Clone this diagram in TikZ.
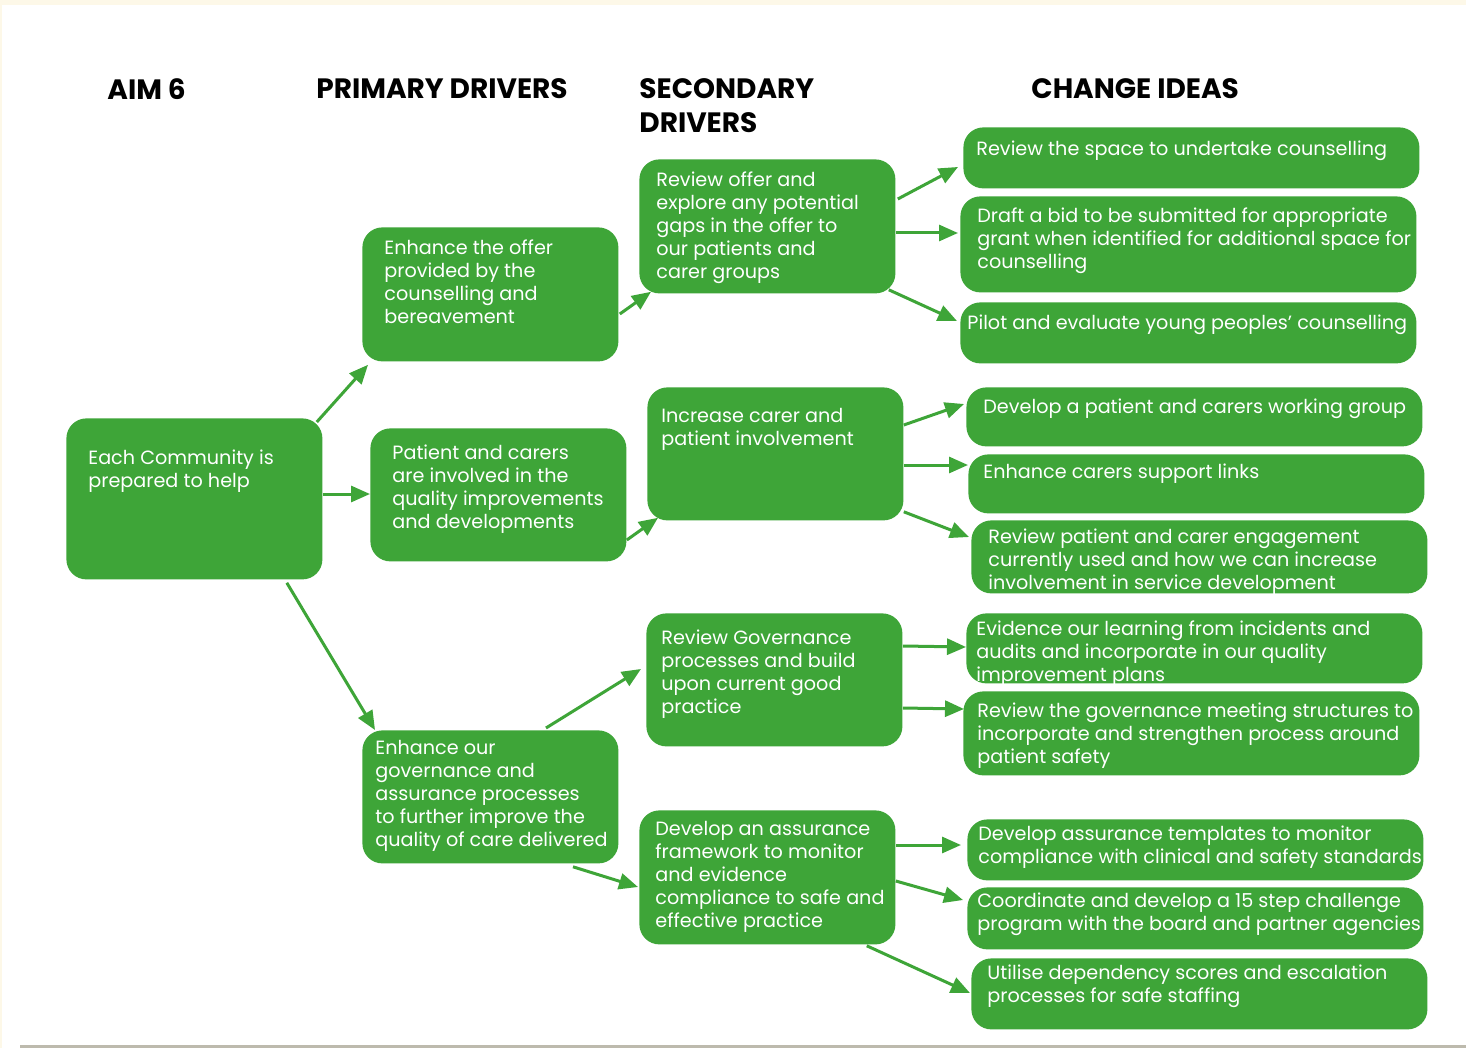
\documentclass[tikz,border=0pt]{standalone}
\usepackage{fontspec}
\setmainfont{Poppins}
\usetikzlibrary{arrows.meta,calc}
\definecolor{leaf}{HTML}{3EA538}
\definecolor{cream}{HTML}{FDF8E8}
\definecolor{shadowline}{HTML}{BDBAAD}
\newdimen\pxu \pxu=0.5pt
% box content: width, height, left padding, first baseline, text (all in px)
\newcommand\cell[5]{%
  \hspace*{#3\pxu}\parbox[c][#2\pxu][t]{\dimexpr#1\pxu-#3\pxu+20pt\relax}{%
    \fontsize{9.6}{11.5}\selectfont\raggedright\color{white}%
    \rule{0pt}{#4\pxu}#5}\hspace*{-20pt}}
% column heading: first baseline measured from the node top
\newcommand\heading[1]{%
  \parbox[t]{200pt}{\fontsize{14}{17}\selectfont\bfseries
    \rule{0pt}{10pt}#1}}
\begin{document}
\begin{tikzpicture}[x=0.5pt,y=-0.5pt,
  box/.style={fill=leaf, rounded corners=10pt, inner sep=0pt, anchor=north west},
  head/.style={inner sep=0pt, anchor=north west, align=left},
  link/.style={draw=leaf, line width=1.5pt, -{Triangle[length=9.5pt,width=8pt]}}]
\useasboundingbox (0,0) rectangle (1466,1048);
% page background
\fill[white] (0,0) rectangle (1466,1048);
\fill[cream] (0,0) rectangle (1466,5);
\fill[cream] (0,0) rectangle (2,1048);
\fill[shadowline] (20,1045) rectangle (1466,1048);

% column headings
\node[head] (hAim) at (107,78) {\heading{AIM 6}};
\node[head] (hPri) at (316,78) {\heading{PRIMARY DRIVERS}};
\node[head] (hSec) at (639,78) {\heading{SECONDARY\\DRIVERS}};
\node[head] (hChg) at (1031,78) {\heading{CHANGE IDEAS}};

% aim
\node[box] (aim) at (66,418) {\cell{256}{161}{22}{46}{Each Community is\\prepared to help}};

% primary drivers
\node[box] (p1) at (362,227) {\cell{256}{134}{22}{27}{Enhance the offer\\provided by the\\counselling and\\bereavement}};
\node[box] (p2) at (370,428) {\cell{256}{133}{22}{31}{Patient and carers\\are involved in the\\quality improvements\\and developments}};
\node[box] (p3) at (362,730) {\cell{256}{133}{13}{24}{Enhance our\\governance and\\assurance processes\\to further improve the\\quality of care delivered}};

% secondary drivers
\node[box] (s1) at (639,159) {\cell{256}{134}{17}{27}{Review offer and\\explore any potential\\gaps in the offer to\\our patients and\\carer groups}};
\node[box] (s2) at (647,387) {\cell{256}{133}{14}{35}{Increase carer and\\patient involvement}};
\node[box] (s3) at (646,613) {\cell{256}{133}{15}{31}{Review Governance\\processes and build\\upon current good\\practice}};
\node[box] (s4) at (639,810) {\cell{256}{134}{16}{25}{Develop an assurance\\framework to monitor\\and evidence\\compliance to safe and\\effective practice}};

% change ideas
\node[box] (c1) at (963,127) {\cell{456}{61}{13}{28}{Review the space to undertake counselling}};
\node[box] (c2) at (960,196) {\cell{456}{96}{17}{26}{Draft a bid to be submitted for appropriate\\grant when identified for additional space for\\counselling}};
\node[box] (c3) at (960,302) {\cell{456}{61}{7}{27}{Pilot and evaluate young peoples’ counselling}};
\node[box] (c4) at (966,387) {\cell{456}{59}{17}{26}{Develop a patient and carers working group}};
\node[box] (c5) at (968,454) {\cell{456}{59}{15}{24}{Enhance carers support links}};
\node[box] (c6) at (971,520) {\cell{456}{73}{17}{23}{Review patient and carer engagement\\currently used and how we can increase\\involvement in service development}};
\node[box] (c7) at (966,613) {\cell{456}{70}{10}{22}{Evidence our learning from incidents and\\audits and incorporate in our quality\\improvement plans}};
\node[box] (c8) at (963,691) {\cell{456}{84}{14}{26}{Review the governance meeting structures to\\incorporate and strengthen process around\\patient safety}};
\node[box] (c9) at (967,819) {\cell{456}{61}{11}{21}{Develop assurance templates to monitor\\compliance with clinical and safety standards}};
\node[box] (c10) at (967,887) {\cell{456}{62}{10}{20}{Coordinate and develop a 15 step challenge\\program with the board and partner agencies}};
\node[box] (c11) at (971,958) {\cell{456}{71}{16}{21}{Utilise dependency scores and escalation\\processes for safe staffing}};

% aim to primary drivers
\draw[link] ($(aim.north east)+(-6,4)$) -- ($(p1.south west)+(6,3)$);
\draw[link] ($(aim.north east)+(0,76)$) -- ($(p2.north west)+(0,66)$);
\draw[link] ($(aim.south east)+(-36,3)$) -- ($(p3.north west)+(13,0)$);

% primary to secondary drivers
\draw[link] ($(p1.north east)+(1,87)$) -- ($(s1.south west)+(12,-2)$);
\draw[link] ($(p2.north east)+(0,112)$) -- ($(s2.south west)+(11,-3)$);
\draw[link] ($(p3.north west)+(184,-2)$) -- ($(s3.north west)+(-5,56)$);
\draw[link] ($(p3.south west)+(211,3)$) -- ($(s4.north west)+(-1,77)$);

% secondary drivers to change ideas
\draw[link] ($(s1.north east)+(2,40)$) -- ($(c1.north west)+(-5,40)$);
\draw[link] ($(s1.north east)+(0,74)$) -- ($(c2.north west)+(-2,37)$);
\draw[link] ($(s1.south east)+(-7,-4)$) -- ($(c3.north west)+(-3,19)$);
\draw[link] ($(s2.north east)+(0,38)$) -- ($(c4.north west)+(-2,17)$);
\draw[link] ($(s2.north east)+(0,78)$) -- ($(c5.north west)+(0,11)$);
\draw[link] ($(s2.south east)+(0,-9)$) -- ($(c6.north west)+(-2,17)$);
\draw[link] ($(s3.north east)+(0,33)$) -- ($(c7.north west)+(0,34)$);
\draw[link] ($(s3.north east)+(0,95)$) -- ($(c8.north west)+(1,18)$);
\draw[link] ($(s4.north east)+(0,35)$) -- ($(c9.north west)+(-6,26)$);
\draw[link] ($(s4.north east)+(0,71)$) -- ($(c10.north west)+(-4,13)$);
\draw[link] ($(s4.south east)+(-29,1)$) -- ($(c11.north west)+(-1,35)$);
\end{tikzpicture}
\end{document}
